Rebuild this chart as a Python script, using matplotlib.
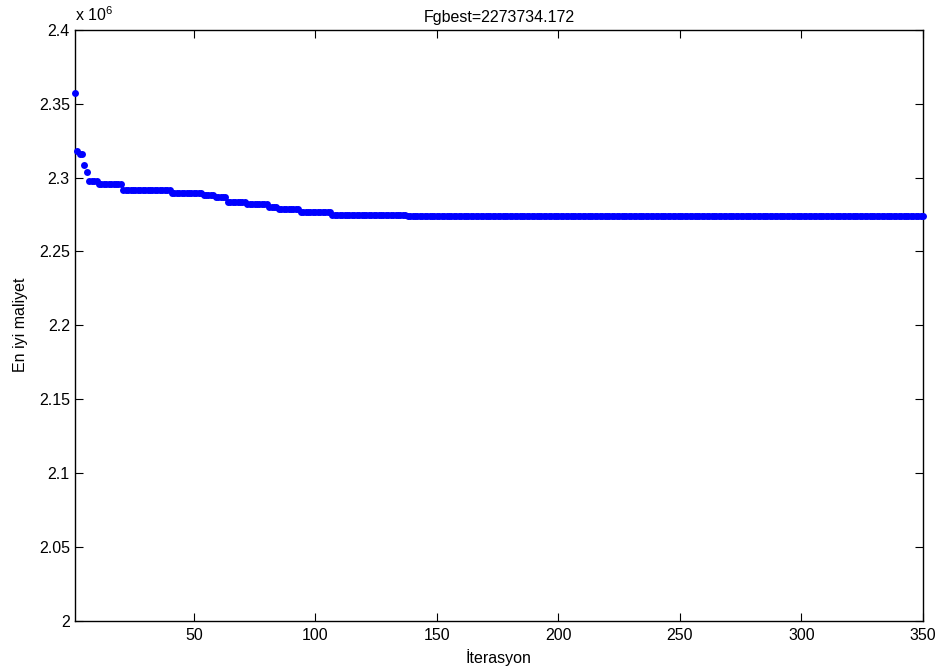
import numpy as np
import matplotlib
matplotlib.use('Agg')
import matplotlib.pyplot as plt
import matplotlib.ticker as tck

plt.rcParams['font.family'] = ['Liberation Sans', 'DejaVu Sans']
plt.rcParams['mathtext.fontset'] = 'custom'
plt.rcParams['mathtext.rm'] = 'Liberation Sans'

# best cost so far: each level starts at an iteration and holds until the next one
step_start = [1, 2, 3, 5, 6, 7, 11, 21, 41, 54, 59, 64, 72, 81, 85, 94, 107, 138]
step_cost = [2357600, 2318300, 2315900, 2308800, 2303700, 2297800, 2295500,
             2291400, 2289600, 2288300, 2287000, 2283600, 2282000, 2280400,
             2278600, 2276800, 2274800, 2273734.172]
n_iter = 350
fgbest = 2273734.172

counts = np.diff(step_start + [n_iter + 1])
iters = np.arange(1, n_iter + 1)
cost = np.repeat(step_cost, counts)

fs = 11.5

fig = plt.figure(figsize=(9.41, 6.68), dpi=100)
ax = fig.add_axes([0.0794, 0.0711, 0.9015, 0.8840])

ax.plot(iters, cost, linestyle='none', marker='o', markersize=5.0,
        markeredgewidth=0, color='#0000ff', clip_on=False, zorder=3)

ax.set_xlim(1, 350)
ax.set_ylim(2.0e6, 2.4e6)
ax.xaxis.set_ticks([50, 100, 150, 200, 250, 300, 350])
ax.yaxis.set_ticks(np.arange(2.0e6, 2.4e6 + 1, 0.05e6))
ax.yaxis.set_major_formatter(tck.FuncFormatter(lambda v, p: '%g' % round(v / 1e6, 2)))

ax.tick_params(direction='in', length=6, width=0.8, top=True, right=True,
               labelsize=fs)
ax.tick_params(axis='y', pad=3.5)
ax.tick_params(axis='x', pad=5.5)
for s in ax.spines.values():
    s.set_linewidth(1.0)

ax.text(0.0, 1.01, r'x 10$^{6}$', transform=ax.transAxes, fontsize=fs,
        ha='left', va='bottom')
ax.set_title('Fgbest=%.3f' % fgbest, fontsize=fs, pad=6)
ax.set_xlabel('İterasyon', fontsize=fs, labelpad=4)
ax.set_ylabel('En iyi maliyet', fontsize=fs, labelpad=8)

plt.savefig('out.png', dpi=100)
